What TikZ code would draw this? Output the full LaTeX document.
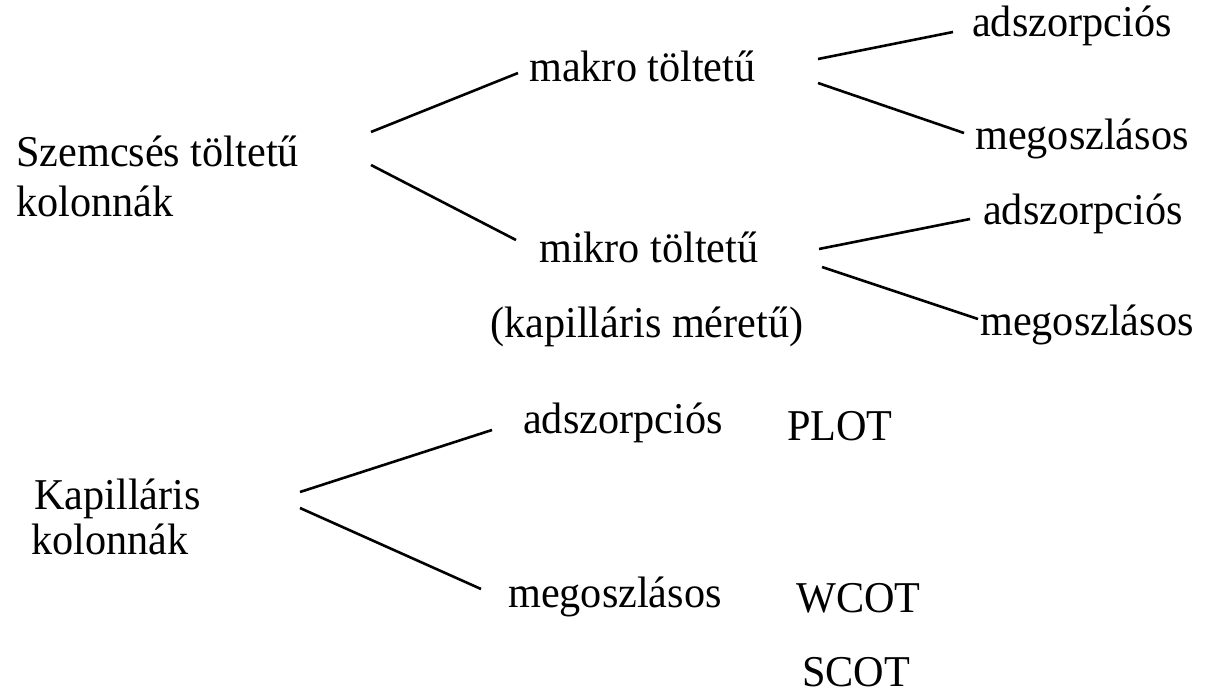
\documentclass[tikz,border=0pt]{standalone}
\usepackage{fontspec}
\setmainfont{Liberation Serif}[FakeStretch=0.96]
\begin{document}
\begin{tikzpicture}[x=1pt,y=-1pt,
  lbl/.style={inner sep=0pt,anchor=base west,font=\fontsize{44}{48}\selectfont},
  link/.style={line width=2.6pt}]
\useasboundingbox (0,0) rectangle (1208,695);
% packed columns
\node[lbl] (szem)    at (16,167)  {Szemcsés töltetű};
\node[lbl] (szemk)   at (16,217)  {kolonnák};
\node[lbl] (makro)   at (529,82)  {makro töltetű};
\node[lbl] (adsz1)   at (972,37)  {adszorpciós};
\node[lbl] (megosz1) at (975,150) {megoszlásos};
\node[lbl] (mikro)   at (539,263) {mikro töltetű};
\node[lbl] (kapmer)  at (490,337) {(kapilláris méretű)};
\node[lbl] (adsz2)   at (983,225) {adszorpciós};
\node[lbl] (megosz2) at (980,335) {megoszlásos};
% capillary columns
\node[lbl] (kap)     at (34,509)  {Kapilláris};
\node[lbl] (kapk)    at (31,554)  {kolonnák};
\node[lbl] (adsz3)   at (523,433) {adszorpciós};
\node[lbl] (plot)    at (787,440) {PLOT};
\node[lbl] (megosz3) at (508,607) {megoszlásos};
\node[lbl] (wcot)    at (796,612) {WCOT};
\node[lbl] (scot)    at (802,686) {SCOT};
% branches (offsets measured from the label baselines)
\draw[link] ([shift={(355,-35)}]szem.base west) -- ([shift={(-11,-9)}]makro.base west);
\draw[link] ([shift={(355,-2)}]szem.base west) -- ([shift={(-23,-23)}]mikro.base west);
\draw[link] ([shift={(289,-23)}]makro.base west) -- ([shift={(-19,-5)}]adsz1.base west);
\draw[link] ([shift={(289,1)}]makro.base west) -- ([shift={(-11,-17)}]megosz1.base west);
\draw[link] ([shift={(280,-14)}]mikro.base west) -- ([shift={(-13,-6)}]adsz2.base west);
\draw[link] ([shift={(283,4)}]mikro.base west) -- ([shift={(-2,-16)}]megosz2.base west);
\draw[link] ([shift={(266,-17)}]kap.base west) -- ([shift={(-31,-3)}]adsz3.base west);
\draw[link] ([shift={(266,-1)}]kap.base west) -- ([shift={(-27,-18)}]megosz3.base west);
\end{tikzpicture}
\end{document}
